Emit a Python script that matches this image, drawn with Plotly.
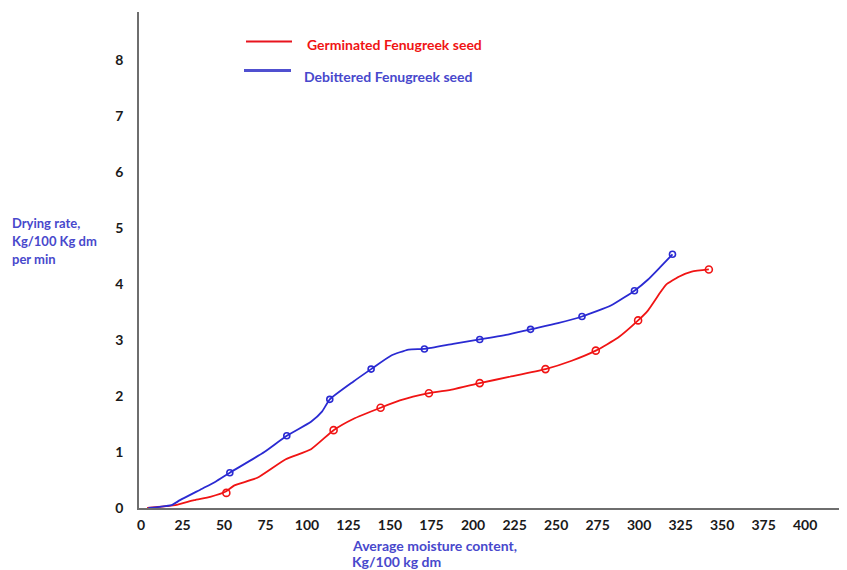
import plotly.graph_objects as go

# ---- data ----
x_ticks = [0, 25, 50, 75, 100, 125, 150, 175, 200, 225, 250, 275, 300, 325, 350, 375, 400]
y_ticks = [0, 1, 2, 3, 4, 5, 6, 7, 8]

germ_name = "Germinated Fenugreek seed"
germ_x = [3.7, 20.6, 32, 41.7, 51.4, 56, 70.1, 87.2, 102.4, 116, 127.8, 144.3, 155.9,
          173.4, 188, 204, 221.6, 243.6, 259.4, 273.9, 287.2, 299.4, 305.4, 313, 316.3,
          323.9, 331.7, 342]
germ_y = [0.0, 0.05, 0.14, 0.2, 0.3, 0.4, 0.54, 0.87, 1.05, 1.39, 1.59, 1.79, 1.92,
          2.05, 2.12, 2.23, 2.34, 2.48, 2.63, 2.81, 3.04, 3.35, 3.53, 3.86, 3.99,
          4.13, 4.22, 4.26]
germ_pts_x = [51.4, 116, 144.3, 173.4, 204, 243.6, 273.9, 299.4, 342]
germ_pts_y = [0.27, 1.39, 1.79, 2.05, 2.23, 2.48, 2.81, 3.35, 4.26]

debit_name = "Debittered Fenugreek seed"
debit_x = [4.4, 11, 18.4, 23.5, 36.5, 44.9, 53.5, 74.3, 87.8, 102.4, 109, 113.7, 128,
           138.6, 150.5, 161.2, 170.7, 188, 204, 221.6, 234.6, 251.1, 265.6, 283.3,
           297.2, 305.4, 313, 320.1]
debit_y = [0.0, 0.02, 0.05, 0.14, 0.34, 0.47, 0.63, 1.0, 1.29, 1.54, 1.72, 1.94, 2.26,
           2.48, 2.72, 2.83, 2.84, 2.93, 3.01, 3.1, 3.19, 3.3, 3.42, 3.62,
           3.88, 4.08, 4.31, 4.53]
debit_pts_x = [53.5, 87.8, 113.7, 138.6, 170.7, 204, 234.6, 265.6, 297.2, 320.1]
debit_pts_y = [0.63, 1.29, 1.94, 2.48, 2.84, 3.01, 3.19, 3.42, 3.88, 4.53]

RED = "#f01414"
BLUE = "#2a2ad2"
TXT_BLUE = "#4848cc"

fig = go.Figure()
fig.add_trace(go.Scatter(x=germ_x, y=germ_y, mode="lines", name=germ_name,
                         line=dict(color=RED, width=1.8, shape="spline", smoothing=0.5),
                         showlegend=False))
fig.add_trace(go.Scatter(x=germ_pts_x, y=germ_pts_y, mode="markers", name=germ_name,
                         marker=dict(symbol="circle-open", size=7, color=RED, line=dict(width=1.6)),
                         showlegend=False))
fig.add_trace(go.Scatter(x=debit_x, y=debit_y, mode="lines", name=debit_name,
                         line=dict(color=BLUE, width=1.8, shape="spline", smoothing=0.5),
                         showlegend=False))
fig.add_trace(go.Scatter(x=debit_pts_x, y=debit_pts_y, mode="markers", name=debit_name,
                         marker=dict(symbol="circle-open", size=6, color=BLUE, line=dict(width=1.6)),
                         showlegend=False))

FONT = "Lato, Open Sans, sans-serif"

# the page body adds an 8px offset, so the figure is 8px smaller and margins are shifted
fig.update_layout(
    width=839, height=562,
    margin=dict(l=131, r=2, t=4, b=62),
    paper_bgcolor="white", plot_bgcolor="white",
    font=dict(family=FONT, size=14, color="#1a1a1a"),
    xaxis=dict(range=[-1.2, 424], tickvals=x_ticks, ticktext=[f"<b>{v}</b>" for v in x_ticks],
               showgrid=False, zeroline=False, showline=True, linecolor="#6e6e6e", linewidth=1.5,
               ticks="", ticklabelstandoff=3, tickfont=dict(size=14, color="#1a1a1a")),
    yaxis=dict(range=[0, 8.857], tickvals=y_ticks, ticktext=[f"<b>{v}</b>" for v in y_ticks],
               showgrid=False, zeroline=False, showline=True, linecolor="#6e6e6e", linewidth=1.5,
               ticks="", ticklabelstandoff=11, tickfont=dict(size=14, color="#1a1a1a")),
)

# reference-pixel -> paper helpers for layout text placement
def px(xp):
    return (xp - 139) / 706.0

def py(yp):
    return (508 - yp) / 496.0

# drawn legend
fig.add_shape(type="line", xref="paper", yref="paper", x0=px(246), x1=px(292), y0=py(41.5), y1=py(41.5),
              line=dict(color="#e8141e", width=2))
fig.add_shape(type="line", xref="paper", yref="paper", x0=px(244), x1=px(291), y0=py(70.5), y1=py(70.5),
              line=dict(color="#5050d0", width=3))
fig.add_annotation(xref="paper", yref="paper", x=px(305), y=py(44.3), xanchor="left", yanchor="middle",
                   text=f"<b>{germ_name}</b>", showarrow=False, font=dict(family=FONT, size=14, color=RED))
fig.add_annotation(xref="paper", yref="paper", x=px(302), y=py(76), xanchor="left", yanchor="middle",
                   text=f"<b>{debit_name}</b>", showarrow=False, font=dict(family=FONT, size=14, color=TXT_BLUE))

# axis titles
y_title = ["Drying rate,", "Kg/100 Kg dm", "per min"]
for line_text, yp in zip(y_title, [222.7, 240.7, 258.5]):
    fig.add_annotation(xref="paper", yref="paper", x=px(10), y=py(yp), xanchor="left", yanchor="middle",
                       text=f"<b>{line_text}</b>", showarrow=False, font=dict(family=FONT, size=13, color=TXT_BLUE))
x_title = ["Average moisture content,", "Kg/100 kg dm"]
for line_text, yp in zip(x_title, [545.7, 561.5]):
    fig.add_annotation(xref="paper", yref="paper", x=px(350), y=py(yp), xanchor="left", yanchor="middle",
                       text=f"<b>{line_text}</b>", showarrow=False, font=dict(family=FONT, size=14, color=TXT_BLUE))

fig.write_html("out.html")
